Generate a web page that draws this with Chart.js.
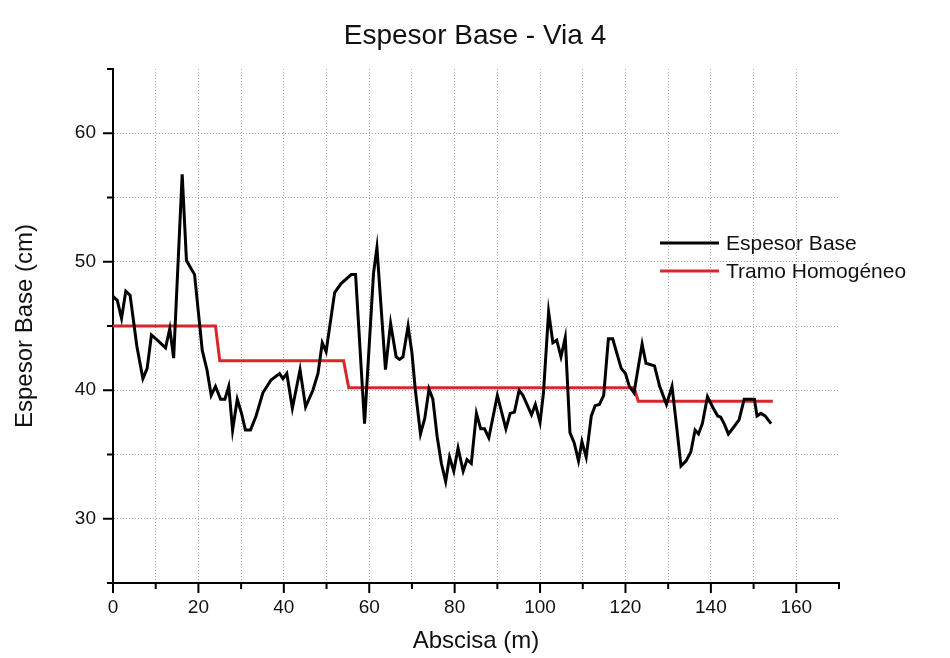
<!DOCTYPE html>
<html>
<head>
<meta charset="utf-8">
<title>Espesor Base - Via 4</title>
<script src="https://cdn.jsdelivr.net/npm/chart.js@4/dist/chart.umd.min.js"></script>
<style>
  html, body { margin: 0; padding: 0; background: #fff; }
  #wrap { width: 950px; height: 658px; }
</style>
</head>
<body>
<div id="wrap"><canvas id="chart" width="950" height="658"></canvas></div>
<script>
// abscisa (m) and measured base thickness (cm)
const abscisa = [0, 1, 2, 3, 4, 5.6, 7, 8, 9, 10.7, 12.3, 13.3, 14.2, 16.2, 17.2, 19.1, 20.9, 22, 23, 24,
  25.2, 26.2, 27.1, 28, 29.1, 30.1, 31, 32.2, 33.5, 35.1, 37, 39, 39.8, 40.7, 42, 43.8, 45.1, 46.8, 48, 49,
  49.9, 51.9, 53.4, 55.8, 56.8, 58.9, 61, 61.8, 63.8, 65, 66.3, 67.1, 67.9, 69.1, 70, 70.8, 72, 73, 74, 74.9,
  75.9, 76.9, 77.9, 78.8, 79.8, 80.8, 82, 82.9, 83.9, 85.1, 86.1, 87, 88, 90, 92, 93, 94, 95.1, 96, 98,
  98.9, 100, 100.8, 102, 103, 103.9, 104.9, 105.9, 107, 108, 109, 109.8, 110.8, 112, 112.9, 113.9, 114.9, 116, 117, 119,
  120, 120.9, 122, 123.9, 124.8, 126.8, 128, 129.6, 130.9, 131.9, 133, 134.2, 135.3, 136.3, 137.1, 138, 139.2, 140.4, 141.6, 142.3,
  143.1, 144.1, 145.5, 146.6, 147.8, 150.2, 150.8, 151.7, 152.7, 154.1];
const espesor = [47.3, 47.0, 45.6, 47.7, 47.4, 43.4, 40.9, 41.7, 44.3, 43.8, 43.3, 44.8, 42.5, 56.8, 50.1, 49.0, 43.1, 41.6, 39.6, 40.3,
  39.3, 39.3, 40.3, 36.9, 39.3, 38.2, 36.9, 36.9, 38.0, 39.8, 40.8, 41.3, 40.9, 41.3, 38.6, 41.6, 38.7, 40.0, 41.3, 43.7,
  43.0, 47.6, 48.3, 49.0, 49.0, 37.4, 49.1, 51.1, 41.6, 45.2, 42.6, 42.4, 42.6, 45.0, 42.9, 40.0, 36.6, 37.8, 40.1, 39.3,
  36.4, 34.3, 32.9, 34.8, 33.7, 35.5, 33.7, 34.6, 34.3, 38.2, 37.0, 37.0, 36.3, 39.6, 37.0, 38.2, 38.3, 40.0, 39.6, 38.1,
  38.9, 37.5, 39.8, 46.1, 43.7, 43.9, 42.6, 44.1, 36.7, 35.9, 34.5, 36.0, 34.8, 38.0, 38.8, 38.9, 39.6, 44.0, 44.0, 41.7,
  41.3, 40.3, 39.8, 43.6, 42.1, 41.9, 40.3, 38.9, 40.3, 37.4, 34.1, 34.5, 35.2, 36.9, 36.6, 37.4, 39.5, 38.7, 38.0, 37.9,
  37.4, 36.6, 37.2, 37.7, 39.3, 39.3, 38.0, 38.2, 38.0, 37.4];

// homogeneous sections (step line)
const tramoX = [0, 24, 25, 54, 55.2, 122, 123, 154.5];
const tramoY = [45, 45, 42.3, 42.3, 40.2, 40.2, 39.15, 39.15];

const xTicks = [0, 20, 40, 60, 80, 100, 120, 140, 160];
const yTicks = [30, 40, 50, 60];

const FONT = "'Liberation Sans', Arial, sans-serif";
const TITLE = 'Espesor Base - Via 4';

const toPoints = (xs, ys) => xs.map((x, i) => ({ x: x, y: ys[i] }));

// outward tick marks, long on labelled values, short elsewhere
const tickMarks = {
  id: 'tickMarks',
  afterDraw(chart) {
    const ctx = chart.ctx;
    const xs = chart.scales.x, ys = chart.scales.y;
    const area = chart.chartArea;
    ctx.save();
    ctx.strokeStyle = '#000';
    ctx.lineWidth = 2;
    xs.ticks.forEach(t => {
      const px = xs.getPixelForValue(t.value);
      const len = xTicks.includes(t.value) ? 10 : 6;
      ctx.beginPath();
      ctx.moveTo(px, area.bottom);
      ctx.lineTo(px, area.bottom + len);
      ctx.stroke();
    });
    ys.ticks.forEach(t => {
      const py = ys.getPixelForValue(t.value);
      const len = yTicks.includes(t.value) ? 10 : 6;
      ctx.beginPath();
      ctx.moveTo(area.left, py);
      ctx.lineTo(area.left - len, py);
      ctx.stroke();
    });
    ctx.restore();
  }
};

// page title centred on the whole canvas, legend inside the plot at the right
const decorations = {
  id: 'decorations',
  afterDraw(chart) {
    const ctx = chart.ctx;
    ctx.save();
    ctx.fillStyle = '#111';
    ctx.font = '28px ' + FONT;
    ctx.textAlign = 'center';
    ctx.textBaseline = 'middle';
    ctx.fillText(TITLE, chart.width / 2, 36);

    const x0 = 660, x1 = 719, y0 = 243, dy = 28;
    ctx.font = '21px ' + FONT;
    ctx.textAlign = 'left';
    chart.data.datasets.forEach((ds, i) => {
      const y = y0 + i * dy;
      ctx.strokeStyle = ds.borderColor;
      ctx.lineWidth = ds.borderWidth;
      ctx.beginPath();
      ctx.moveTo(x0, y);
      ctx.lineTo(x1, y);
      ctx.stroke();
      ctx.fillStyle = '#111';
      ctx.fillText(ds.label, x1 + 7, y + 1);
    });
    ctx.restore();
  }
};

const hideEdge = (lo, hi) => ctx => {
  const v = ctx.tick ? ctx.tick.value : null;
  return (v === lo || v === hi) ? 'rgba(0,0,0,0)' : '#a8a8a8';
};

new Chart(document.getElementById('chart'), {
  type: 'line',
  data: {
    datasets: [
      {
        label: 'Espesor Base',
        data: toPoints(abscisa, espesor),
        borderColor: '#000',
        borderWidth: 3,
        pointRadius: 0,
        tension: 0
      },
      {
        label: 'Tramo Homogéneo',
        data: toPoints(tramoX, tramoY),
        borderColor: '#d8262c',
        borderWidth: 3,
        pointRadius: 0,
        tension: 0
      }
    ]
  },
  options: {
    responsive: false,
    animation: false,
    layout: { padding: { left: 0, right: 111, top: 69, bottom: 0 } },
    plugins: {
      legend: { display: false },
      tooltip: { enabled: false },
      title: { display: false }
    },
    scales: {
      x: {
        type: 'linear',
        min: 0,
        max: 170,
        afterFit: s => { s.height = 75; },
        ticks: {
          stepSize: 10,
          padding: 13,
          color: '#111',
          font: { family: FONT, size: 19 },
          maxRotation: 0,
          autoSkip: false,
          callback: v => xTicks.includes(v) ? String(v) : ''
        },
        grid: { color: hideEdge(0, 170), lineWidth: 1, drawTicks: false },
        border: { color: '#000', width: 2, dash: [1, 2] },
        title: {
          display: true,
          text: 'Abscisa (m)',
          color: '#111',
          font: { family: FONT, size: 24 },
          padding: { top: 0, bottom: 2 }
        }
      },
      y: {
        min: 25,
        max: 65,
        afterFit: s => { s.width = 113; },
        ticks: {
          stepSize: 5,
          padding: 17,
          color: '#111',
          font: { family: FONT, size: 19 },
          autoSkip: false,
          callback: v => yTicks.includes(v) ? String(v) : ''
        },
        grid: { color: hideEdge(25, 65), lineWidth: 1, drawTicks: false },
        border: { color: '#000', width: 2, dash: [1, 2] },
        title: {
          display: true,
          text: 'Espesor Base (cm)',
          color: '#111',
          font: { family: FONT, size: 24 },
          padding: { top: 11, bottom: 0 }
        }
      }
    }
  },
  plugins: [tickMarks, decorations]
});
</script>
</body>
</html>
